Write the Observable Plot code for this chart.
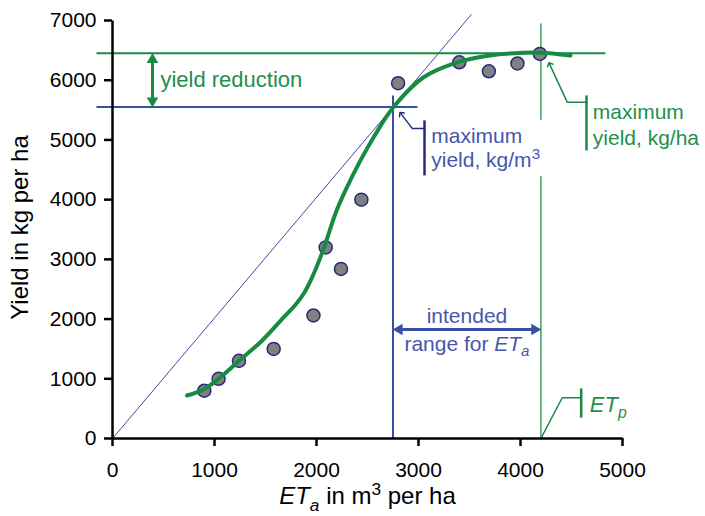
<!DOCTYPE html>
<html><head><meta charset="utf-8">
<script src="https://cdn.jsdelivr.net/npm/d3@7"></script>
<script src="https://cdn.jsdelivr.net/npm/@observablehq/plot@0.6"></script>
<style>body{margin:0;background:#fff}</style>
</head><body><div id="chart"></div>
<script>
// Observed points: ET_a (m3/ha) and yield (kg/ha)
const etA      = [900, 1040, 1240, 1580, 1970, 2090, 2240, 2440, 2800, 3400, 3690, 3970, 4190];
const yieldKg  = [800, 1000, 1300, 1500, 2060, 3200, 2840, 4000, 5950, 6300, 6150, 6280, 6440];
// Fitted production curve
const curveEt    = [730, 900, 1040, 1240, 1468, 1680, 1790, 1880, 1958, 2039, 2098, 2186, 2284, 2431, 2559, 2755, 3050, 3380, 3700, 4030, 4200, 4490];
const curveYield = [720, 830, 1000, 1300, 1642, 2032, 2230, 2440, 2702, 3037, 3317, 3769, 4154, 4657, 5042, 5550, 6050, 6300, 6415, 6460, 6460, 6415];
const xTicks = [0, 1000, 2000, 3000, 4000, 5000];
const yTicks = [0, 1000, 2000, 3000, 4000, 5000, 6000, 7000];
// Key reference values
const maxWP = {et: 2750, y: 5550};    // maximum yield per m3
const maxYield = {et: 4200, y: 6450}; // maximum yield per ha (ET_p)

const points = etA.map((e, i) => ({et: e, y: yieldKg[i]}));
const curve = curveEt.map((e, i) => ({et: e, y: curveYield[i]}));

const G = "#178a43", GT = "#1f8f4c", GV = "#3f9f62", B = "#3a4fa4", BT = "#4757aa", N = "#262b7a";

const seg = (x1, y1, x2, y2, o) => Plot.link([0], {x1: () => x1, y1: () => y1, x2: () => x2, y2: () => y2, ...o});
const txt = (s, x, y, o) => Plot.text([s], {x: () => x, y: () => y, text: d => d, ...o});
const head = (x, y, o) => Plot.dot([0], {x: () => x, y: () => y, symbol: "triangle", r: 4.3, stroke: "none", ...o});

const richText = {
  "range for ETa": [["range for ", ""], ["ET", "i"], ["a", "i sub"]],
  "ETp": [["ET", "i"], ["p", "i sub"]],
  "yield, kg/m3": [["yield, kg/m", ""], ["3", "sup"]],
  "ETa in m3 per ha": [["ET", "i"], ["a", "i sub"], [" in m", ""], ["3", "sup"], [" per ha", ""]]
};

const chart = Plot.plot({
  width: 705, height: 516,
  marginLeft: 112, marginRight: 83, marginTop: 20, marginBottom: 78,
  x: {domain: [0, 5000]},
  y: {domain: [0, 7000]},
  style: {fontFamily: "'Liberation Sans', Arial, Helvetica, sans-serif", fontSize: "21px", background: "white", color: "black", overflow: "visible"},
  marks: [
    // line of maximum water productivity through origin
    seg(0, 0, maxWP.et * 1.28, maxWP.y * 1.28, {stroke: B, strokeWidth: 1}),
    // reference lines
    seg(-157, maxYield.y, 4833, maxYield.y, {stroke: G, strokeWidth: 2}),
    seg(-157, maxWP.y, 2990, maxWP.y, {stroke: B, strokeWidth: 2}),
    seg(maxWP.et, 0, maxWP.et, 5745, {stroke: B, strokeWidth: 2}),
    seg(maxYield.et, 0, maxYield.et, 4390, {stroke: GV, strokeWidth: 1.5}),
    seg(maxYield.et, 5340, maxYield.et, 6950, {stroke: GV, strokeWidth: 1.5}),
    // data
    Plot.dot(points, {x: "et", y: "y", r: 6.5, fill: "#808080", stroke: N, strokeWidth: 1.5}),
    Plot.line(curve, {x: "et", y: "y", stroke: G, strokeWidth: 4, curve: "catmull-rom"}),
    // yield reduction arrow
    seg(392, 6330, 392, 5670, {stroke: G, strokeWidth: 3}),
    head(392, maxYield.y, {fill: G, dy: 6.3}),
    head(392, maxWP.y, {fill: G, dy: -6.3, rotate: 180}),
    txt("yield reduction", 470, 6000, {textAnchor: "start", fill: GT, fontSize: 22}),
    // maximum yield kg/m3 annotation
    seg(3059, 5327, 3059, 4405, {stroke: N, strokeWidth: 2.5}),
    Plot.line([[3059, 5193], [2938, 5193], [2828, 5440]], {stroke: N, strokeWidth: 1.5, markerEnd: "arrow"}),
    txt("maximum", 3125, 5054, {textAnchor: "start", fill: BT}),
    txt("yield, kg/m3", 3125, 4657, {textAnchor: "start", fill: BT}),
    // maximum yield kg/ha annotation
    seg(4647, 5745, 4647, 4824, {stroke: G, strokeWidth: 2.5}),
    Plot.line([[4647, 5633], [4458, 5633], [4285, 6270]], {stroke: G, strokeWidth: 1.5, markerEnd: "arrow"}),
    txt("maximum", 4709, 5467, {textAnchor: "start", fill: GT}),
    txt("yield, kg/ha", 4709, 5020, {textAnchor: "start", fill: GT}),
    // intended range
    seg(2800, 1826, 4150, 1826, {stroke: B, strokeWidth: 3}),
    head(maxWP.et, 1826, {fill: B, dx: 6.3, rotate: -90}),
    head(maxYield.et, 1826, {fill: B, dx: -6.3, rotate: 90}),
    txt("intended", 3475, 2044, {fill: BT}),
    txt("range for ETa", 3475, 1586, {fill: BT}),
    // ETp annotation
    seg(4595, 840, 4595, 350, {stroke: G, strokeWidth: 2.5}),
    Plot.line([[4595, 682], [4409, 682], [maxYield.et, 0]], {stroke: G, strokeWidth: 1.5}),
    txt("ETp", 4679, 560, {textAnchor: "start", fill: GT, fontSize: 22}),
    // axes
    seg(0, 0, 0, 7000, {stroke: "black", strokeWidth: 2.5}),
    seg(0, 0, 5000, 0, {stroke: "black", strokeWidth: 2.5}),
    Plot.axisX(xTicks, {tickSize: 8, tickPadding: 16, strokeWidth: 2.5, tickFormat: d => String(d), label: null, fontSize: 21}),
    Plot.axisY(yTicks, {tickSize: 8, tickPadding: 8, strokeWidth: 2.5, tickFormat: d => String(d), label: null, fontSize: 21}),
    Plot.text(["Yield in kg per ha"], {frameAnchor: "left", text: d => d, textAnchor: "middle", lineAnchor: "middle", rotate: -90, dx: -92, dy: -2, fontSize: 24}),
    Plot.text(["ETa in m3 per ha"], {frameAnchor: "bottom", text: d => d, textAnchor: "middle", lineAnchor: "middle", dy: 58, fontSize: 24})
  ]
});
document.getElementById("chart").appendChild(chart);

d3.select(chart).selectAll("text").each(function() {
  const spec = richText[this.textContent];
  if (!spec) return;
  const fsz = parseFloat(getComputedStyle(this).fontSize) || 21;
  const el = d3.select(this);
  el.text(null);
  let shift = 0;
  for (const [t, style] of spec) {
    const ts = el.append("tspan").text(t);
    let target = 0;
    if (style.includes("i")) ts.attr("font-style", "italic");
    if (style.includes("sub")) { target = 0.28 * fsz; ts.attr("font-size", 0.72 * fsz); }
    if (style.includes("sup")) { target = -0.4 * fsz; ts.attr("font-size", 0.72 * fsz); }
    if (target !== shift) { ts.attr("dy", target - shift); shift = target; }
  }
});
</script>
</body></html>
